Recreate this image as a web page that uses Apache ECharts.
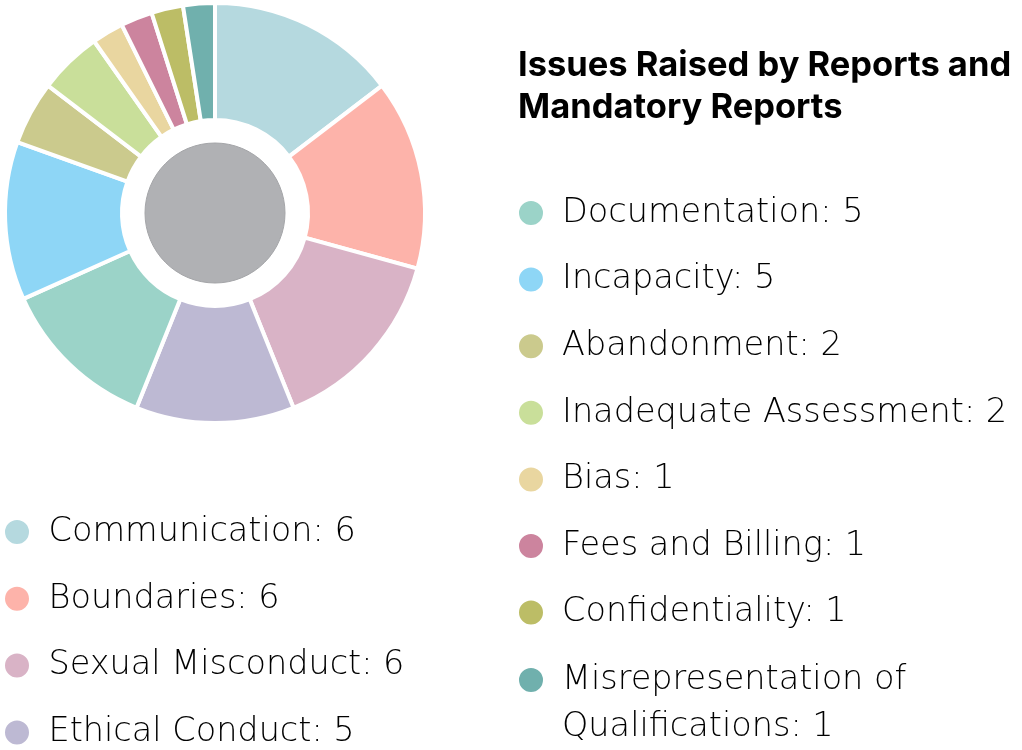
<!DOCTYPE html>
<html>
<head>
<meta charset="utf-8">
<script src="https://cdn.jsdelivr.net/npm/echarts@6/dist/echarts.min.js"></script>
<style>
html,body{margin:0;padding:0;background:#fff;}
#chart{width:1022px;height:750px;}
</style>
</head>
<body>
<div id="chart"></div>
<script>
const categories = ['Communication', 'Boundaries', 'Sexual Misconduct', 'Ethical Conduct', 'Documentation', 'Incapacity', 'Abandonment', 'Inadequate Assessment', 'Bias', 'Fees and Billing', 'Confidentiality', 'Misrepresentation of Qualifications'];
const values = [6, 6, 6, 5, 5, 5, 2, 2, 1, 1, 1, 1];
const colors = ['#b5d9df', '#fdb3aa', '#d9b3c6', '#bdb9d3', '#9bd3c8', '#8ed6f6', '#cbca8d', '#c9df9a', '#e9d6a0', '#cc849e', '#bcbd66', '#70b0ad'];
const titleText = 'Issues Raised by Reports and\nMandatory Reports';

const valueOf = {};
categories.forEach((c, i) => { valueOf[c] = values[i]; });

const legendText = {
  fontFamily: '"DejaVu Sans ExtraLight", "DejaVu Sans"', fontWeight: 200, fontSize: 33.5, color: '#000',
  lineHeight: 40, padding: [0, 0, 0, 13]
};
const fmt = name => name + ': ' + valueOf[name];

const chart = echarts.init(document.getElementById('chart'));
chart.setOption({
  animation: false,
  title: {
    text: titleText,
    left: 518, top: 45, padding: 0,
    textStyle: { fontFamily: 'Inter', fontWeight: 'bold', fontSize: 34.5, lineHeight: 42, color: '#000' }
  },
  legend: [
    {
      data: categories.slice(0, 4), orient: 'vertical', left: 3, top: 512, height: 300, padding: 0,
      icon: 'circle', itemWidth: 27, itemHeight: 26, itemGap: 26.8,
      formatter: fmt, textStyle: legendText, selectedMode: false
    },
    {
      data: categories.slice(4, 11), orient: 'vertical', left: 517, top: 193, height: 500, padding: 0,
      icon: 'circle', itemWidth: 26, itemHeight: 26, itemGap: 26.6,
      formatter: fmt, textStyle: legendText, selectedMode: false
    },
    {
      data: categories.slice(11), orient: 'vertical', left: 517, top: 609.5, height: 200, padding: 0,
      icon: 'circle', itemWidth: 26, itemHeight: 26,
      formatter: name => '\nMisrepresentation of\nQualifications: ' + valueOf[name],
      textStyle: Object.assign({}, legendText, { lineHeight: 47 }), selectedMode: false
    }
  ],
  series: [
    {
      type: 'pie',
      center: [215, 213],
      radius: [93, 210],
      startAngle: 90,
      clockwise: true,
      label: { show: false },
      labelLine: { show: false },
      emphasis: { disabled: true },
      itemStyle: { borderColor: '#fff', borderWidth: 4 },
      data: categories.map((c, i) => ({ name: c, value: values[i], itemStyle: { color: colors[i] } }))
    },
    {
      type: 'pie',
      name: 'center',
      center: [215, 213],
      radius: [0, 70],
      silent: true,
      label: { show: false },
      labelLine: { show: false },
      itemStyle: { color: '#b0b1b4', borderColor: '#a4a5a8', borderWidth: 1 },
      data: [{ name: '', value: 1 }]
    }
  ]
});
</script>
</body>
</html>
